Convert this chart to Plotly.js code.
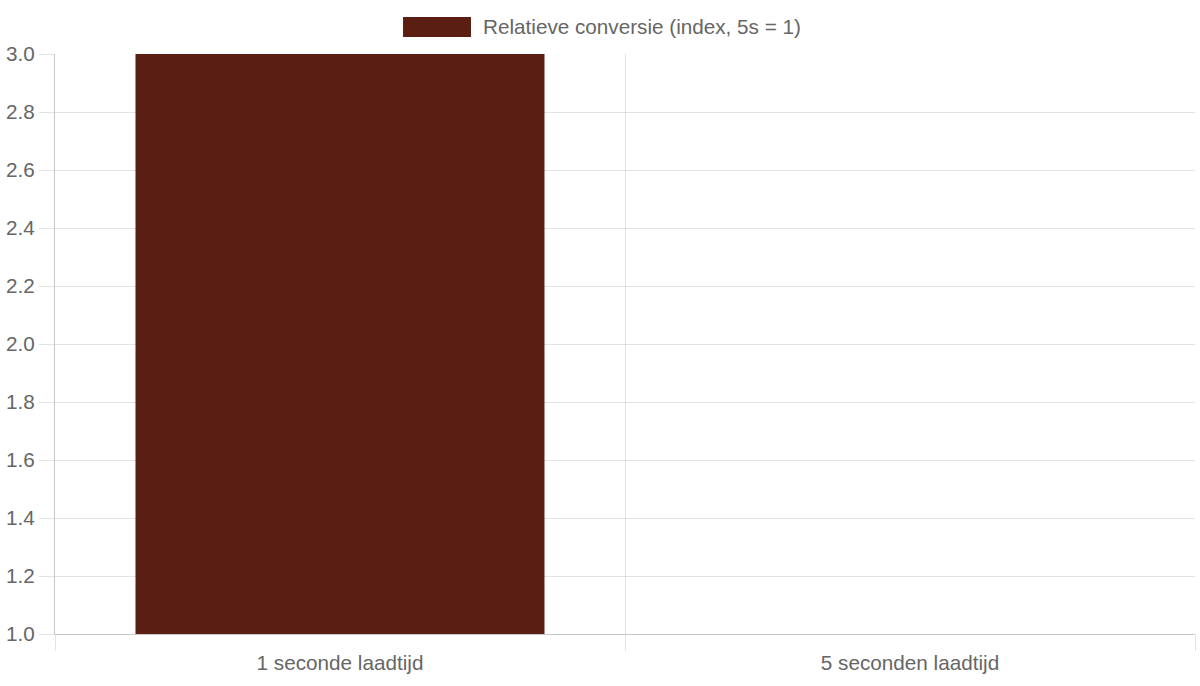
<!DOCTYPE html>
<html>
<head>
<meta charset="utf-8">
<script src="https://cdn.plot.ly/plotly-3.0.1.min.js"></script>
<style>
  html, body { margin: 0; padding: 0; background: #fff; }
  #chart { width: 1200px; height: 686px; }
</style>
</head>
<body>
<div id="chart"></div>
<script>
// data
const categories = ['1 seconde laadtijd', '5 seconden laadtijd'];
const conversion = [3, 1];
const seriesName = 'Relatieve conversie (index, 5s = 1)';
const yTicks = [1.0, 1.2, 1.4, 1.6, 1.8, 2.0, 2.2, 2.4, 2.6, 2.8, 3.0];

const barColor  = '#5a1e12';
const gridColor = 'rgba(0,0,0,0.11)';
const lineColor = '#c8c8c8';
const textColor = '#666';
const font      = 'Liberation Sans, Arial, sans-serif';
const fs        = 20.7;

Plotly.newPlot('chart', [{
  type: 'bar',
  name: seriesName,
  x: categories,
  y: conversion,
  marker: { color: barColor },
  hoverinfo: 'x+y',
}], {
  width: 1200, height: 686,
  margin: { t: 54, r: 5, b: 52, l: 55 },
  paper_bgcolor: '#fff', plot_bgcolor: '#fff',
  font: { family: font, size: fs, color: textColor },
  showlegend: false,
  bargap: 0.2825,
  xaxis: {
    type: 'category',
    tickson: 'boundaries',
    ticks: 'outside', ticklen: 16, tickcolor: gridColor,
    ticklabelstandoff: 10,
    showgrid: true, gridcolor: gridColor,
    showline: true, linecolor: lineColor, linewidth: 1,
    tickfont: { family: font, size: fs, color: textColor },
    fixedrange: true,
  },
  yaxis: {
    range: [1, 3],
    tickvals: yTicks,
    tickformat: '.1f',
    ticks: 'outside', ticklen: 15, tickcolor: gridColor,
    showgrid: true, gridcolor: gridColor,
    zeroline: false,
    showline: true, linecolor: lineColor, linewidth: 1,
    tickfont: { family: font, size: fs, color: textColor },
    fixedrange: true,
  },
  shapes: [{
    type: 'rect', xref: 'paper', yref: 'paper',
    x0: 0.3053, x1: 0.3649, y0: 1.0293, y1: 1.0638,
    fillcolor: barColor, line: { width: 0 },
  }],
  annotations: [{
    xref: 'paper', yref: 'paper',
    x: 0.3737, y: 1.0466, xanchor: 'left', yanchor: 'middle',
    text: seriesName, showarrow: false,
    font: { family: font, size: fs, color: textColor },
  }],
}, { displayModeBar: false, staticPlot: true });
</script>
</body>
</html>
